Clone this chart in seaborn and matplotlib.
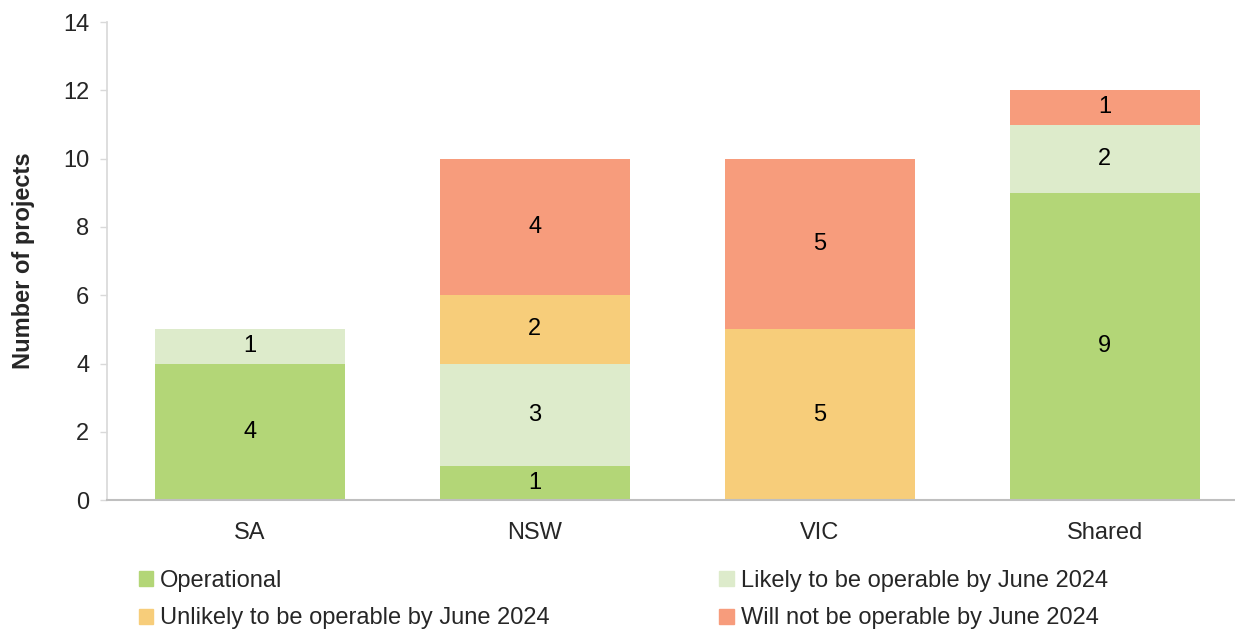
import numpy as np
import seaborn as sns
import matplotlib.pyplot as plt
from matplotlib.patches import Patch

regions = ["SA", "NSW", "VIC", "Shared"]
statuses = ["Operational", "Likely to be operable by June 2024",
            "Unlikely to be operable by June 2024", "Will not be operable by June 2024"]
operational = [4, 1, 0, 9]
likely = [1, 3, 0, 2]
unlikely = [0, 2, 5, 0]
will_not = [0, 4, 5, 1]
colors = ["#B3D677", "#DDEBCB", "#F7CD7A", "#F79C7C"]

sns.set_theme(style="white")
plt.rcParams['font.family'] = ['Liberation Sans', 'DejaVu Sans']

fig = plt.figure(figsize=(12.35, 6.33), dpi=100)
ax = fig.add_axes([0.087, 0.21, 0.923, 0.755])

bottom = np.zeros(len(regions))
for vals, col in zip([operational, likely, unlikely, will_not], colors):
    sns.barplot(x=regions, y=vals, bottom=bottom, color=col, width=0.667,
                saturation=1, ax=ax, linewidth=0)
    cont = ax.containers[-1]
    ax.bar_label(cont, labels=[str(v) if v > 0 else "" for v in vals],
                 label_type="center", fontsize=17, color="black")
    bottom += np.array(vals)

ax.set_xlim(-0.5, 3.5)
ax.set_ylim(0, 14)
ax.set_yticks(range(0, 15, 2))
ax.set_ylabel("Number of projects", fontsize=17, fontweight="bold", labelpad=20)
ax.tick_params(axis="y", labelsize=17, left=True, length=5, color="#D9D9D9", width=1, pad=8)
ax.tick_params(axis="x", labelsize=17, bottom=False, pad=10)
for s in ["top", "right"]:
    ax.spines[s].set_visible(False)
ax.spines["left"].set_color("#D9D9D9")
ax.spines["bottom"].set_color("#BFBFBF")
ax.spines["bottom"].set_linewidth(1.5)

handles = [Patch(color=c) for c in colors]
order = [0, 2, 1, 3]
fig.legend([handles[i] for i in order], [statuses[i] for i in order],
           ncol=2, loc="lower left", bbox_to_anchor=(0.095, -0.028), frameon=False,
           fontsize=17, handlelength=0.6, handleheight=0.6, handletextpad=0.3,
           columnspacing=7.2, labelspacing=0.65)

fig.savefig("out.png", dpi=100)
